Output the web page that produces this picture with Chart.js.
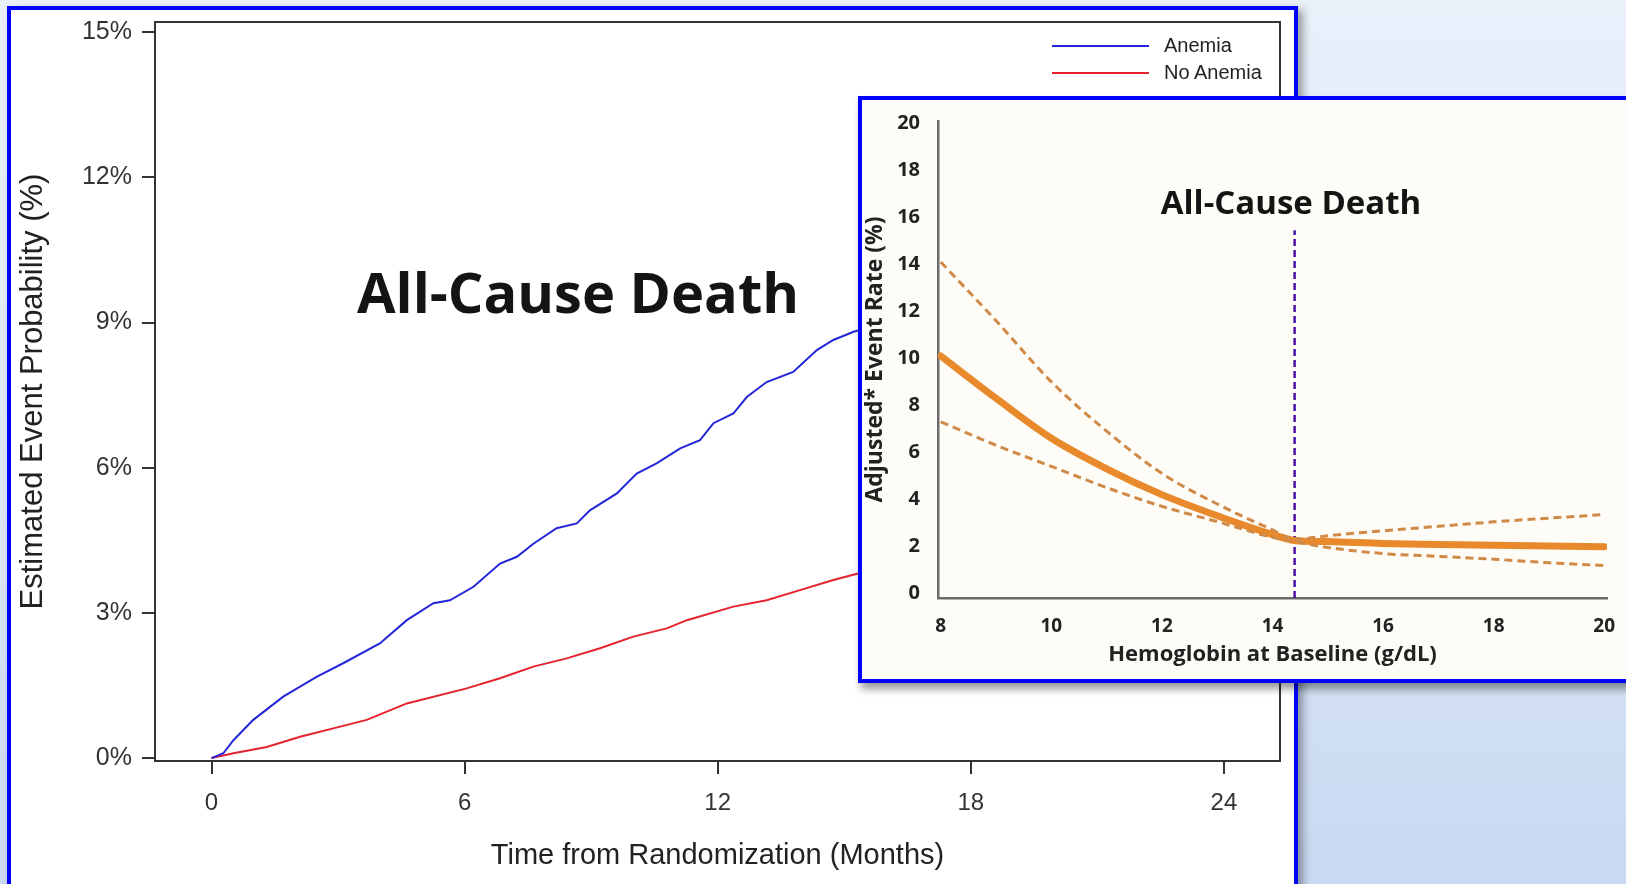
<!DOCTYPE html>
<html>
<head>
<meta charset="utf-8">
<script src="https://cdn.jsdelivr.net/npm/chart.js@4.4.1/dist/chart.umd.min.js"></script>
<style>
html, body { margin: 0; padding: 0; width: 1626px; height: 884px; overflow: hidden; }
body { position: relative; background: linear-gradient(180deg, #eaf0fa 0%, #dde7f6 50%, #c9d9f1 100%); font-family: "Liberation Sans", Arial, sans-serif; }
.panel { position: absolute; box-sizing: border-box; border: 4px solid #0000ff; }
#mainPanel { left: 7px; top: 6px; width: 1291px; height: 920px; background: #fff; box-shadow: 5px 4px 8px rgba(0,0,0,0.35); }
#insetPanel { left: 858px; top: 96px; width: 800px; height: 587px; background: #fdfcf7; box-shadow: 3px 6px 8px rgba(0,0,0,0.4); }
#mainWrap { position: absolute; left: 11px; top: 10px; }
#insetWrap { position: absolute; left: 862px; top: 100px; }
.big { position: absolute; font-family: "Open Sans", sans-serif; font-weight: 700; color: #141414; white-space: nowrap; transform: translate(-50%, -50%); }
#legend { position: absolute; left: 1052px; top: 32px; font-size: 20px; color: #222; }
.row { height: 27px; display: flex; align-items: center; }
.row span.ln { display: inline-block; width: 97px; height: 2px; margin-right: 15px; }
</style>
</head>
<body>
<div class="panel" id="mainPanel"></div>
<div id="mainWrap"><canvas id="mainChart" width="1282" height="874"></canvas></div>
<div id="legend"></div>
<div class="big" style="left:578px; top:291px; font-size:56px;">All-Cause Death</div>
<div class="panel" id="insetPanel"></div>
<div id="insetWrap"><canvas id="insetChart" width="764" height="579"></canvas></div>
<div class="big" style="left:1291px; top:201px; font-size:33px;">All-Cause Death</div>
<script>
// main KM chart
const seriesNames = ['Anemia', 'No Anemia'];
const seriesColors = ['#2626d9', '#e5222e'];
const monthTicks = [0, 6, 12, 18, 24];
const pctTicks = [0, 3, 6, 9, 12, 15];

const anemiaMonths = [0, 0.28, 0.52, 0.99, 1.70, 2.49, 3.12, 3.99, 4.63, 5.26, 5.65, 6.21, 6.84, 7.24, 7.63, 8.18, 8.66, 8.97, 9.61, 10.08, 10.55, 11.11, 11.58, 11.90, 12.37, 12.69, 13.16, 13.79, 14.35, 14.74, 15.22, 15.35];
const anemiaPct = [0, 0.10, 0.37, 0.79, 1.27, 1.68, 1.96, 2.37, 2.85, 3.20, 3.26, 3.54, 4.02, 4.16, 4.43, 4.75, 4.85, 5.12, 5.47, 5.88, 6.09, 6.40, 6.57, 6.92, 7.12, 7.46, 7.77, 7.98, 8.43, 8.64, 8.81, 8.84];

const noAnemiaMonths = [0, 0.52, 1.31, 2.10, 3.05, 3.68, 4.63, 6.05, 6.84, 7.63, 8.42, 9.21, 10.0, 10.79, 11.27, 12.37, 13.16, 13.95, 14.74, 15.35];
const noAnemiaPct = [0, 0.10, 0.23, 0.44, 0.65, 0.79, 1.13, 1.44, 1.65, 1.89, 2.06, 2.27, 2.51, 2.68, 2.85, 3.13, 3.26, 3.47, 3.68, 3.82];

// inset spline chart
const hbTicks = [8, 10, 12, 14, 16, 18, 20];
const rateTicks = [0, 2, 4, 6, 8, 10, 12, 14, 16, 18, 20];
const hbValues = [8, 9, 10, 11, 12, 13, 14, 14.4, 15, 16, 17, 18, 19, 20];
const rateFit = [10.1, 8.3, 6.6, 5.3, 4.2, 3.3, 2.5, 2.25, 2.2, 2.12, 2.08, 2.04, 2.01, 1.98];
const rateUpper = [14.1, 11.6, 9.0, 6.9, 5.1, 3.8, 2.7, 2.3, 2.45, 2.66, 2.85, 3.04, 3.2, 3.35];
const rateLower = [7.3, 6.3, 5.4, 4.5, 3.7, 3.05, 2.38, 2.2, 1.95, 1.69, 1.57, 1.45, 1.3, 1.18];
const refHb = [14.4, 14.4];
const refRate = [-0.2, 15.45];

const pts = (xs, ys) => xs.map((x, i) => ({x, y: ys[i]}));

// legend
document.getElementById('legend').innerHTML = seriesNames.map((n, i) =>
    `<div class="row"><span class="ln" style="background:${seriesColors[i]}"></span>${n}</div>`).join('');

const frame = {
    id: 'frame',
    beforeDatasetsDraw(chart) {
        const {ctx, chartArea: a} = chart;
        ctx.save();
        ctx.strokeStyle = '#333';
        ctx.lineWidth = 2;
        ctx.strokeRect(a.left, a.top, a.right - a.left, a.bottom - a.top);
        ctx.restore();
    }
};

// fixed axis boxes, no label overflow padding
const fixW = w => a => { a.width = w; a.paddingTop = 0; a.paddingBottom = 0; };
const fixH = h => a => { a.height = h; a.paddingLeft = 0; a.paddingRight = 0; };

const sans = "'Liberation Sans', Arial, sans-serif";
new Chart(document.getElementById('mainChart'), {
    type: 'line',
    data: {
        datasets: [
            {label: seriesNames[0], data: pts(anemiaMonths, anemiaPct), borderColor: seriesColors[0], borderWidth: 2, pointRadius: 0, tension: 0},
            {label: seriesNames[1], data: pts(noAnemiaMonths, noAnemiaPct), borderColor: seriesColors[1], borderWidth: 2, pointRadius: 0, tension: 0}
        ]
    },
    options: {
        responsive: false,
        animation: false,
        layout: {padding: {top: 12, right: 13, left: 0, bottom: 0}},
        plugins: {legend: {display: false}, tooltip: {enabled: false}},
        scales: {
            x: {
                type: 'linear', min: -1.34, max: 25.33,
                afterBuildTicks: a => { a.ticks = monthTicks.map(v => ({value: v})); },
                afterFit: fixH(123),
                grid: {drawOnChartArea: false, tickLength: 13, color: '#333', lineWidth: 2},
                border: {color: '#333', width: 2},
                ticks: {font: {size: 24, family: sans}, color: '#333', padding: 15, maxRotation: 0},
                title: {display: true, text: 'Time from Randomization (Months)', font: {size: 29, family: sans}, color: '#222', padding: {top: 0, bottom: 11}}
            },
            y: {
                type: 'linear', min: -0.06, max: 15.21,
                afterBuildTicks: a => { a.ticks = pctTicks.map(v => ({value: v})); },
                afterFit: fixW(144),
                grid: {drawOnChartArea: false, tickLength: 13, color: '#333', lineWidth: 2},
                border: {color: '#333', width: 2},
                ticks: {font: {size: 25, family: sans}, color: '#333', padding: 10, callback: v => v + '%'},
                title: {display: true, text: 'Estimated Event Probability (%)', font: {size: 31, family: sans}, color: '#222', padding: {top: 4, bottom: 0}}
            }
        }
    },
    plugins: [frame]
});

const bold = "'Open Sans', sans-serif";
const orange = '#e8892b';
const orangeDash = '#d08a48';
new Chart(document.getElementById('insetChart'), {
    type: 'line',
    data: {
        datasets: [
            {label: 'Upper', data: pts(hbValues, rateUpper), borderColor: orangeDash, borderWidth: 3, borderDash: [8, 5], pointRadius: 0, cubicInterpolationMode: 'monotone'},
            {label: 'Lower', data: pts(hbValues, rateLower), borderColor: orangeDash, borderWidth: 3, borderDash: [8, 5], pointRadius: 0, cubicInterpolationMode: 'monotone'},
            {label: 'Adjusted rate', data: pts(hbValues, rateFit), borderColor: orange, borderWidth: 7, borderCapStyle: 'round', pointRadius: 0, cubicInterpolationMode: 'monotone'},
            {label: 'Reference', data: pts(refHb, refRate), borderColor: '#4a12a6', borderWidth: 2.5, borderDash: [7, 4], pointRadius: 0}
        ]
    },
    options: {
        responsive: false,
        animation: false,
        layout: {padding: {top: 21, right: 19, left: 0, bottom: 0}},
        plugins: {legend: {display: false}, tooltip: {enabled: false}},
        scales: {
            x: {
                type: 'linear', min: 7.95, max: 20.05,
                afterBuildTicks: a => { a.ticks = hbTicks.map(v => ({value: v})); },
                afterFit: fixH(81),
                grid: {display: false},
                border: {color: '#6b6b6b', width: 2.5},
                ticks: {font: {size: 19, family: bold, weight: 'bold'}, color: '#222', padding: 9, maxRotation: 0},
                title: {display: true, text: 'Hemoglobin at Baseline (g/dL)', font: {size: 22, family: bold, weight: 'bold'}, color: '#222', padding: {top: 0, bottom: 11}}
            },
            y: {
                type: 'linear', min: -0.2, max: 20.1,
                afterBuildTicks: a => { a.ticks = rateTicks.map(v => ({value: v})); },
                afterFit: fixW(76),
                grid: {display: false},
                border: {color: '#6b6b6b', width: 2.5},
                ticks: {font: {size: 20, family: bold, weight: 'bold'}, color: '#222', padding: 10},
                title: {display: true, text: 'Adjusted* Event Rate (%)', font: {size: 23, family: bold, weight: 'bold'}, color: '#222', padding: {top: 0, bottom: 0}}
            }
        }
    }
});
</script>
</body>
</html>
